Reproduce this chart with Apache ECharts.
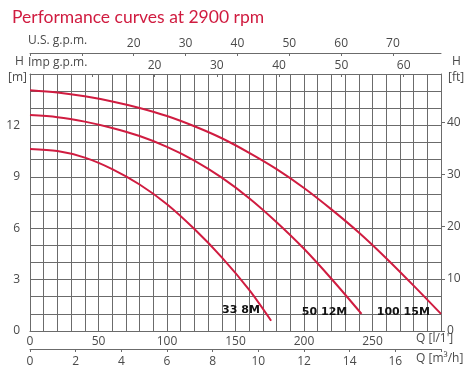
<!DOCTYPE html>
<html>
<head>
<meta charset="utf-8">
<script src="https://cdn.jsdelivr.net/npm/echarts@6/dist/echarts.min.js"></script>
<style>
html, body { margin: 0; padding: 0; background: #fff; }
#chart { width: 471px; height: 377px; }
</style>
</head>
<body>
<div id="chart"></div>
<script>
// flow in l/min, head in m
var q338 = [0, 20, 40, 60, 80, 100, 120, 140, 160, 176];
var h338 = [10.62, 10.5, 10.12, 9.45, 8.55, 7.4, 5.95, 4.3, 2.4, 0.6];

var q5012 = [0, 20, 40, 60, 80, 100, 120, 140, 160, 180, 200, 220, 242];
var h5012 = [12.6, 12.48, 12.22, 11.85, 11.38, 10.75, 9.95, 8.95, 7.75, 6.35, 4.8, 3.05, 1.0];

var q10015 = [0, 20, 40, 60, 80, 100, 120, 140, 160, 180, 200, 220, 240, 260, 280, 300];
var h10015 = [14.05, 13.92, 13.7, 13.4, 13.02, 12.55, 11.95, 11.25, 10.4, 9.45, 8.35, 7.1, 5.75, 4.25, 2.65, 1.0];

var curveNames = ['33 8M', '50 12M', '100 15M'];

var LPM_PER_USGPM = 3.785;
var LPM_PER_IMPGPM = 4.546;
var M_PER_FT = 0.3048;

var red = '#d01c40';
var gridColor = '#6b6b6b';
var textColor = '#4a4a4a';
var font = 'Open Sans';

function pairs(q, h) {
    var out = [];
    for (var i = 0; i < q.length; i++) out.push([q[i], h[i]]);
    return out;
}

function curve(name, q, h, labelAt) {
    return {
        name: name,
        type: 'line',
        xAxisIndex: 0,
        yAxisIndex: 0,
        smooth: 0.3,
        symbol: 'none',
        data: pairs(q, h),
        lineStyle: { color: red, width: 2 },
        markPoint: {
            symbol: 'rect',
            symbolSize: 1,
            itemStyle: { color: 'rgba(0,0,0,0)' },
            label: {
                show: true,
                position: 'inside',
                formatter: name,
                color: '#111',
                fontFamily: 'DejaVu Sans',
                fontWeight: 'bold',
                fontSize: 11
            },
            data: [{ coord: labelAt }]
        }
    };
}

var dom = document.getElementById('chart');
var myChart = echarts.init(dom, null, { renderer: 'canvas' });

var labelBase = { color: textColor, fontFamily: font, fontSize: 12 };
var nameFont = '12px "Open Sans"';

var option = {
    animation: false,
    title: {
        text: 'Performance curves at 2900 rpm',
        left: 7,
        top: 3,
        textStyle: { color: red, fontFamily: 'Lato', fontWeight: 'normal', fontSize: 17.5 }
    },
    grid: { left: 30, right: 30, top: 74, bottom: 46 },
    xAxis: [
        {
            type: 'value', position: 'bottom', min: 0, max: 300, interval: 10,
            axisLine: { show: true, onZero: false, lineStyle: { color: gridColor } },
            axisTick: { show: false },
            splitLine: { show: true, lineStyle: { color: gridColor, width: 1 } },
            axisLabel: Object.assign({
                margin: 5,
                formatter: function (v) { return (v % 50 === 0 && v < 300) ? v : ''; }
            }, labelBase)
        },
        {
            type: 'value', position: 'bottom', offset: 18, min: 0, max: 18, interval: 2,
            axisLine: { show: true, onZero: false, lineStyle: { color: gridColor } },
            axisTick: { show: true, length: 3, lineStyle: { color: gridColor } },
            splitLine: { show: false },
            axisLabel: Object.assign({
                margin: 7,
                formatter: function (v) { return v < 18 ? v : ''; }
            }, labelBase)
        },
        {
            type: 'value', position: 'top', offset: 21, min: 0, max: 300 / LPM_PER_USGPM, interval: 10,
            axisLine: { show: true, onZero: false, lineStyle: { color: gridColor } },
            axisTick: { show: true, inside: true, length: 3, lineStyle: { color: gridColor } },
            splitLine: { show: false },
            axisLabel: Object.assign({
                margin: 3, showMaxLabel: false,
                formatter: function (v) { return (v >= 20 && v <= 70) ? v : ''; }
            }, labelBase)
        },
        {
            type: 'value', position: 'top', offset: 0, min: 0, max: 300 / LPM_PER_IMPGPM, interval: 10,
            axisLine: { show: true, onZero: false, lineStyle: { color: gridColor } },
            axisTick: { show: true, inside: true, length: 3, lineStyle: { color: gridColor } },
            splitLine: { show: false },
            axisLabel: Object.assign({
                margin: 2, showMaxLabel: false,
                formatter: function (v) { return (v >= 20 && v <= 60) ? v : ''; }
            }, labelBase)
        }
    ],
    yAxis: [
        {
            type: 'value', position: 'left', min: 0, max: 15, interval: 1,
            axisLine: { show: true, onZero: false, lineStyle: { color: gridColor } },
            axisTick: { show: false },
            splitLine: { show: true, lineStyle: { color: gridColor, width: 1 } },
            axisLabel: Object.assign({
                margin: 10,
                formatter: function (v) { return (v % 3 === 0 && v < 15) ? v : ''; }
            }, labelBase)
        },
        {
            type: 'value', position: 'right', min: 0, max: 15 / M_PER_FT, interval: 10,
            axisLine: { show: true, onZero: false, lineStyle: { color: gridColor } },
            axisTick: { show: true, length: 4, lineStyle: { color: gridColor } },
            splitLine: { show: false },
            axisLabel: Object.assign({
                margin: 6, showMaxLabel: false,
                formatter: function (v) { return v <= 40 ? v : ''; }
            }, labelBase)
        }
    ],
    graphic: [
        { type: 'text', left: 28, top: 35, style: { text: 'U.S. g.p.m.', fill: textColor, font: nameFont } },
        { type: 'text', left: 28, top: 57, style: { text: 'Imp g.p.m.', fill: textColor, font: nameFont } },
        { type: 'text', left: 15, top: 56, style: { text: 'H', fill: textColor, font: nameFont } },
        { type: 'text', left: 8, top: 72, style: { text: '[m]', fill: textColor, font: nameFont } },
        { type: 'text', left: 452, top: 56, style: { text: 'H', fill: textColor, font: nameFont } },
        { type: 'text', left: 448, top: 72, style: { text: '[ft]', fill: textColor, font: nameFont } },
        { type: 'text', left: 416, top: 333, style: { text: "Q [l/1']", fill: textColor, font: nameFont } },
        { type: 'text', left: 416, top: 353, style: { text: 'Q [m\u00b3/h]', fill: textColor, font: nameFont } }
    ],
    series: [
        curve(curveNames[0], q338, h338, [154, 1.2]),
        curve(curveNames[1], q5012, h5012, [215, 1.1]),
        curve(curveNames[2], q10015, h10015, [272.5, 1.1])
    ]
};

if (option && typeof option === 'object') {
    myChart.setOption(option);
}
</script>
</body>
</html>
